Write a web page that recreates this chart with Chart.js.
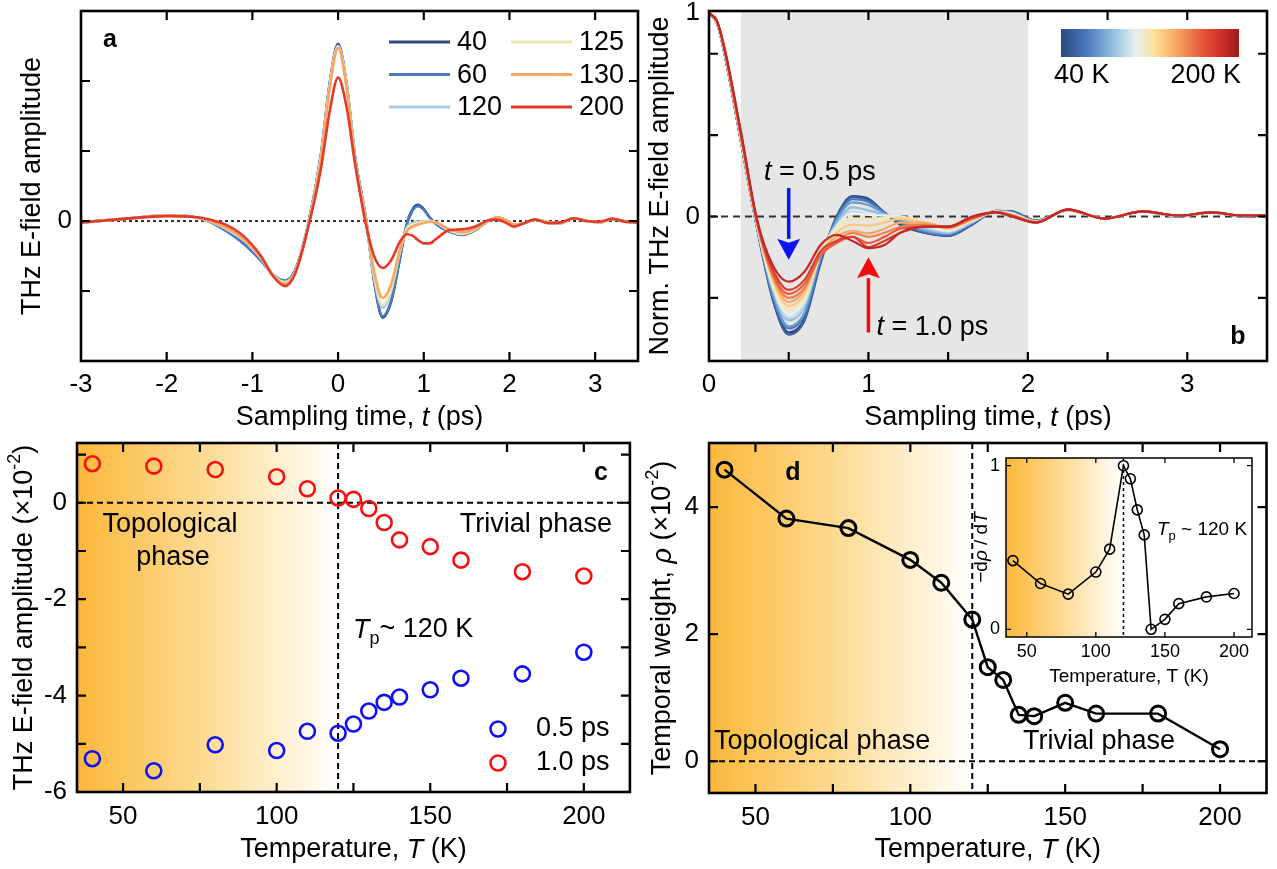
<!DOCTYPE html>
<html>
<head>
<meta charset="utf-8">
<script src="https://cdn.jsdelivr.net/npm/chart.js@4.4.1/dist/chart.umd.min.js"></script>
<style>
body { margin: 0; background: #fff; width: 1277px; height: 869px; position: relative; overflow: hidden; }
canvas { position: absolute; }
</style>
</head>
<body>
<canvas id="pa" width="640" height="430" style="left:0;top:0"></canvas>
<canvas id="pb" width="637" height="430" style="left:640px;top:0"></canvas>
<canvas id="pc" width="640" height="439" style="left:0;top:430px"></canvas>
<canvas id="pd" width="637" height="439" style="left:640px;top:430px"></canvas>
<canvas id="pi" width="300" height="240" style="left:960px;top:450px"></canvas>
<script>
// ---- panel a: raw THz waveforms ----
var tA = [-3, -2.5, -2, -1.7, -1.5, -1.3, -1.1, -0.9, -0.75, -0.62, -0.5, -0.35, -0.2, -0.1, 0, 0.1, 0.2, 0.33, 0.42, 0.52, 0.62, 0.72, 0.8, 0.87, 0.93, 1.0, 1.07, 1.15, 1.3, 1.45, 1.6, 1.75, 1.85, 1.95, 2.05, 2.15, 2.3, 2.45, 2.6, 2.75, 2.9, 3.05, 3.2, 3.35, 3.5];
var a40 = [-0.02, 0.03, 0.08, 0.06, 0.0, -0.13, -0.3, -0.55, -0.78, -0.86, -0.7, -0.05, 0.95, 1.95, 2.53, 1.95, 0.9, 0.0, -0.85, -1.38, -1.15, -0.55, -0.05, 0.17, 0.23, 0.17, 0.05, -0.05, -0.15, -0.2, -0.13, 0.0, 0.05, 0.02, -0.05, -0.04, 0.02, -0.02, -0.03, 0.04, 0.0, -0.02, 0.03, -0.01, -0.02];
var a60 = [-0.02, 0.03, 0.08, 0.06, -0.01, -0.15, -0.33, -0.57, -0.78, -0.85, -0.7, -0.06, 0.93, 1.93, 2.51, 1.94, 0.9, -0.01, -0.85, -1.36, -1.13, -0.54, -0.06, 0.15, 0.21, 0.16, 0.05, -0.05, -0.15, -0.19, -0.13, 0.0, 0.05, 0.02, -0.05, -0.04, 0.02, -0.02, -0.03, 0.04, 0.0, -0.02, 0.03, -0.01, -0.02];
var a120 = [-0.02, 0.03, 0.08, 0.06, 0.0, -0.12, -0.28, -0.53, -0.78, -0.87, -0.72, -0.07, 0.92, 1.92, 2.5, 1.93, 0.88, -0.02, -0.8, -1.24, -1.0, -0.45, -0.1, -0.03, -0.01, 0.0, 0.0, -0.03, -0.14, -0.19, -0.12, 0.0, 0.05, 0.02, -0.05, -0.04, 0.02, -0.02, -0.03, 0.04, 0.0, -0.02, 0.03, -0.01, -0.02];
var a125 = [-0.02, 0.03, 0.08, 0.06, 0.0, -0.11, -0.27, -0.53, -0.79, -0.88, -0.72, -0.08, 0.9, 1.9, 2.49, 1.92, 0.87, -0.03, -0.78, -1.2, -0.97, -0.44, -0.12, -0.05, -0.03, -0.01, 0.0, -0.02, -0.13, -0.18, -0.12, 0.0, 0.05, 0.02, -0.05, -0.04, 0.02, -0.02, -0.03, 0.04, 0.0, -0.02, 0.03, -0.01, -0.02];
var a130 = [-0.02, 0.03, 0.08, 0.06, 0.0, -0.1, -0.26, -0.52, -0.8, -0.9, -0.73, -0.08, 0.88, 1.88, 2.47, 1.9, 0.85, -0.04, -0.72, -1.1, -0.9, -0.42, -0.15, -0.08, -0.05, -0.03, -0.01, -0.02, -0.12, -0.16, -0.11, 0.0, 0.05, 0.02, -0.05, -0.04, 0.02, -0.02, -0.03, 0.04, 0.0, -0.02, 0.03, -0.01, -0.02];
var a200 = [-0.02, 0.03, 0.07, 0.06, 0.02, -0.06, -0.22, -0.5, -0.8, -0.93, -0.75, -0.1, 0.75, 1.55, 2.05, 1.62, 0.8, -0.08, -0.5, -0.67, -0.56, -0.3, -0.19, -0.21, -0.27, -0.32, -0.32, -0.25, -0.13, -0.12, -0.08, 0.01, 0.02, -0.02, -0.08, -0.04, 0.02, -0.03, -0.02, 0.04, 0.0, -0.01, 0.03, -0.01, -0.02];
var labelsA = ['40', '60', '120', '125', '130', '200'];
var colorsA = ['#2b4a80', '#4a7bc0', '#a9cde6', '#eee5b4', '#f8a660', '#e23b2b'];

// ---- panel b: normalised waveforms ----
var tB = [0, 0.05, 0.1, 0.2, 0.3, 0.4, 0.5, 0.6, 0.7, 0.8, 0.9, 1.0, 1.1, 1.2, 1.35, 1.5, 1.65, 1.8, 1.9, 2.05, 2.25, 2.48, 2.72, 2.95, 3.15, 3.35, 3.5];
var b40  = [1, 0.95, 0.79, 0.37, -0.05, -0.40, -0.57, -0.50, -0.22, 0.00, 0.10, 0.087, 0.02, -0.04, -0.08, -0.095, -0.04, 0.028, 0.025, -0.02, 0.03, -0.01, 0.025, 0.0, 0.02, 0.0, 0.005];
var b60  = [1, 0.95, 0.79, 0.37, -0.05, -0.41, -0.58, -0.51, -0.23, -0.005, 0.095, 0.08, 0.02, -0.035, -0.08, -0.095, -0.04, 0.028, 0.025, -0.02, 0.03, -0.01, 0.025, 0.0, 0.02, 0.0, 0.005];
var b80  = [1, 0.95, 0.79, 0.37, -0.05, -0.39, -0.55, -0.48, -0.21, -0.01, 0.085, 0.072, 0.02, -0.03, -0.075, -0.09, -0.035, 0.027, 0.022, -0.022, 0.03, -0.01, 0.025, 0.0, 0.02, 0.0, 0.005];
var b100 = [1, 0.95, 0.795, 0.375, -0.04, -0.38, -0.54, -0.47, -0.20, -0.02, 0.07, 0.057, 0.015, -0.02, -0.07, -0.085, -0.03, 0.026, 0.02, -0.022, 0.03, -0.01, 0.025, 0.0, 0.02, 0.0, 0.005];
var b110 = [1, 0.95, 0.795, 0.38, -0.04, -0.36, -0.51, -0.44, -0.19, -0.035, 0.045, 0.03, 0.01, -0.01, -0.06, -0.08, -0.03, 0.025, 0.018, -0.024, 0.03, -0.01, 0.025, 0.002, 0.02, 0.002, 0.005];
var b120 = [1, 0.955, 0.80, 0.38, -0.04, -0.35, -0.50, -0.43, -0.18, -0.045, 0.025, 0.01, 0.005, 0.0, -0.05, -0.075, -0.025, 0.024, 0.016, -0.025, 0.03, -0.01, 0.025, 0.002, 0.02, 0.002, 0.005];
var b125 = [1, 0.955, 0.80, 0.385, -0.04, -0.34, -0.48, -0.41, -0.18, -0.05, 0.015, 0.008, 0.005, 0.0, -0.04, -0.07, -0.02, 0.024, 0.014, -0.025, 0.03, -0.01, 0.025, 0.003, 0.02, 0.003, 0.005];
var b130 = [1, 0.955, 0.80, 0.385, -0.03, -0.33, -0.46, -0.40, -0.18, -0.06, -0.01, -0.013, -0.005, 0.0, -0.03, -0.06, -0.02, 0.023, 0.012, -0.026, 0.032, -0.01, 0.025, 0.003, 0.02, 0.003, 0.005];
var b135 = [1, 0.955, 0.805, 0.39, -0.03, -0.31, -0.44, -0.38, -0.18, -0.08, -0.04, -0.045, -0.03, -0.01, -0.03, -0.06, -0.015, 0.023, 0.01, -0.027, 0.032, -0.01, 0.025, 0.004, 0.02, 0.004, 0.005];
var b140 = [1, 0.96, 0.805, 0.39, -0.03, -0.30, -0.42, -0.36, -0.18, -0.10, -0.07, -0.083, -0.06, -0.03, -0.03, -0.055, -0.015, 0.022, 0.008, -0.028, 0.033, -0.01, 0.025, 0.004, 0.02, 0.004, 0.005];
var b150 = [1, 0.96, 0.81, 0.40, -0.02, -0.29, -0.40, -0.35, -0.19, -0.12, -0.08, -0.10, -0.08, -0.05, -0.04, -0.055, -0.01, 0.022, 0.006, -0.028, 0.033, -0.01, 0.025, 0.005, 0.02, 0.005, 0.005];
var b160 = [1, 0.96, 0.81, 0.40, -0.02, -0.28, -0.38, -0.33, -0.19, -0.13, -0.10, -0.13, -0.10, -0.06, -0.05, -0.05, -0.01, 0.021, 0.004, -0.029, 0.034, -0.01, 0.025, 0.005, 0.02, 0.005, 0.005];
var b180 = [1, 0.96, 0.815, 0.41, -0.02, -0.26, -0.36, -0.31, -0.17, -0.12, -0.10, -0.15, -0.12, -0.08, -0.05, -0.05, -0.005, 0.02, 0.002, -0.03, 0.035, -0.01, 0.025, 0.005, 0.02, 0.005, 0.005];
var b200 = [1, 0.96, 0.82, 0.42, -0.01, -0.24, -0.32, -0.27, -0.14, -0.09, -0.12, -0.155, -0.14, -0.08, -0.05, -0.05, 0.0, 0.02, 0.0, -0.03, 0.035, -0.01, 0.025, 0.005, 0.02, 0.005, 0.005];
var seriesB = [b40, b60, b80, b100, b110, b120, b125, b130, b135, b140, b150, b160, b180, b200];

// ---- panels c, d: temperature dependence ----
var temps = [40, 60, 80, 100, 110, 120, 125, 130, 135, 140, 150, 160, 180, 200];
var amp05 = [-5.31, -5.56, -5.02, -5.14, -4.74, -4.78, -4.59, -4.32, -4.14, -4.03, -3.88, -3.64, -3.55, -3.10];
var amp10 = [0.81, 0.76, 0.69, 0.54, 0.29, 0.10, 0.07, -0.12, -0.41, -0.77, -0.91, -1.19, -1.43, -1.52];
var rho = [4.59, 3.82, 3.67, 3.17, 2.81, 2.23, 1.48, 1.28, 0.73, 0.71, 0.92, 0.75, 0.75, 0.19];
var dRho = [0.42, 0.28, 0.215, 0.35, 0.49, 1.0, 0.92, 0.73, 0.577, 0.0, 0.061, 0.157, 0.198, 0.219];
var Tp = 120;

// tick positions
var xTicksA = [-3, -2, -1, 0, 1, 2, 3];
var yTicksA = [-1, 0, 1, 2];
var xTicksB = [0, 0.5, 1, 1.5, 2, 2.5, 3];
var yTicksB = [-0.4, 0, 0.4, 0.8, 1];
var xTicksT = [50, 75, 100, 125, 150, 175, 200];
var yTicksC = [-6, -5, -4, -3, -2, -1, 0, 1];
var yTicksD = [0, 2, 4];
var xTicksI = [50, 100, 150, 200];
var yTicksI = [0, 1];

var FAM = 'Arial, "Liberation Sans", Helvetica, sans-serif';
Chart.defaults.font.family = FAM;
Chart.defaults.color = '#000';
Chart.defaults.animation = false;

var cmapStops = [[0, '#2b4880'], [0.14, '#4877bb'], [0.3, '#98c2df'], [0.42, '#e6f2f3'], [0.52, '#fbe39c'], [0.65, '#f8a560'], [0.8, '#e5533a'], [0.92, '#c92a27'], [1, '#9a1c1c']];

function mix(c1, c2, u) {
    var p = parseInt(c1.slice(1), 16), q = parseInt(c2.slice(1), 16);
    var r = Math.round(((p >> 16) & 255) * (1 - u) + ((q >> 16) & 255) * u);
    var g = Math.round(((p >> 8) & 255) * (1 - u) + ((q >> 8) & 255) * u);
    var b = Math.round((p & 255) * (1 - u) + (q & 255) * u);
    return 'rgb(' + r + ',' + g + ',' + b + ')';
}

function cmap(f) {
    for (var i = 1; i < cmapStops.length; i++) {
        if (f <= cmapStops[i][0]) {
            var s0 = cmapStops[i - 1], s1 = cmapStops[i];
            return mix(s0[1], s1[1], (f - s0[0]) / (s1[0] - s0[0]));
        }
    }
    return cmapStops[cmapStops.length - 1][1];
}

function pts(xs, ys) {
    return xs.map(function (x, i) { return { x: x, y: ys[i] }; });
}

function runFont(style, size) {
    if (style === 'i') return 'italic ' + size + 'px ' + FAM;
    if (style === 'b') return 'bold ' + size + 'px ' + FAM;
    if (style === 'sub' || style === 'sup') return Math.round(size * 0.68) + 'px ' + FAM;
    return size + 'px ' + FAM;
}

// text made of runs [text, style] so that italics, sub- and superscripts can be mixed
function rich(ctx, runs, x, y, size, align, rot) {
    ctx.save();
    ctx.translate(x, y);
    if (rot) ctx.rotate(rot);
    ctx.textBaseline = 'middle';
    ctx.textAlign = 'left';
    var w = 0;
    runs.forEach(function (r) { ctx.font = runFont(r[1], size); w += ctx.measureText(r[0]).width; });
    var cx = align === 'left' ? 0 : (align === 'right' ? -w : -w / 2);
    runs.forEach(function (r) {
        ctx.font = runFont(r[1], size);
        var dy = r[1] === 'sub' ? size * 0.32 : (r[1] === 'sup' ? -size * 0.38 : 0);
        ctx.fillText(r[0], cx, dy);
        cx += ctx.measureText(r[0]).width;
    });
    ctx.restore();
}

function axisTitles(chart, xRuns, xY, yRuns, yX, size) {
    var ctx = chart.ctx, a = chart.chartArea;
    ctx.save();
    ctx.fillStyle = '#000';
    rich(ctx, xRuns, (a.left + a.right) / 2, xY, size, 'center', 0);
    rich(ctx, yRuns, yX, (a.top + a.bottom) / 2, size, 'center', -Math.PI / 2);
    ctx.restore();
}

function axis(min, max, ticks, labelFn, size, pad, box) {
    return {
        type: 'linear', min: min, max: max,
        grid: { display: false, drawTicks: false },
        border: { display: false },
        afterBuildTicks: function (s) { s.ticks = ticks.map(function (v) { return { value: v }; }); },
        afterFit: function (s) {
            if (s.isHorizontal()) s.height = box; else s.width = box;
            s.paddingTop = 0; s.paddingBottom = 0; s.paddingLeft = 0; s.paddingRight = 0;
        },
        ticks: { font: { size: size }, padding: pad, color: '#000', autoSkip: false, maxRotation: 0, callback: labelFn }
    };
}

function dashed(ctx, x1, y1, x2, y2, dash, lw, color) {
    ctx.save();
    ctx.setLineDash(dash);
    ctx.lineWidth = lw;
    ctx.strokeStyle = color;
    ctx.beginPath(); ctx.moveTo(x1, y1); ctx.lineTo(x2, y2); ctx.stroke();
    ctx.restore();
}

function phaseShade(chart) {
    var ctx = chart.ctx, a = chart.chartArea;
    var xp = chart.scales.x.getPixelForValue(Tp);
    var g = ctx.createLinearGradient(a.left, 0, xp, 0);
    g.addColorStop(0, 'rgb(251,184,58)');
    g.addColorStop(0.5, 'rgb(253,220,150)');
    g.addColorStop(1, 'rgb(255,255,255)');
    ctx.save();
    ctx.fillStyle = g;
    ctx.fillRect(a.left, a.top, xp - a.left, a.bottom - a.top);
    ctx.restore();
}

function arrow(ctx, x, y1, y2, color) {
    var dir = y2 > y1 ? 1 : -1, hl = 21, hw = 11.5;
    ctx.save();
    ctx.strokeStyle = color; ctx.fillStyle = color; ctx.lineWidth = 3.5;
    ctx.beginPath(); ctx.moveTo(x, y1); ctx.lineTo(x, y2 - dir * hl); ctx.stroke();
    ctx.beginPath();
    ctx.moveTo(x - hw, y2 - dir * hl); ctx.lineTo(x, y2 - dir * (hl - 4)); ctx.lineTo(x + hw, y2 - dir * hl);
    ctx.lineTo(x, y2); ctx.closePath(); ctx.fill();
    ctx.restore();
}

// box round the plot area with inward ticks on all four sides
var framePlugin = {
    id: 'frame',
    afterDraw: function (chart, args, o) {
        var ctx = chart.ctx, a = chart.chartArea, sx = chart.scales.x, sy = chart.scales.y;
        ctx.save();
        ctx.strokeStyle = '#000';
        ctx.lineWidth = o.tickWidth;
        ctx.beginPath();
        sx.ticks.forEach(function (t) {
            var px = sx.getPixelForValue(t.value);
            if (px < a.left + 3 || px > a.right - 3) return;
            ctx.moveTo(px, a.bottom); ctx.lineTo(px, a.bottom - o.len);
            ctx.moveTo(px, a.top); ctx.lineTo(px, a.top + o.len);
        });
        sy.ticks.forEach(function (t) {
            var py = sy.getPixelForValue(t.value);
            if (py < a.top + 3 || py > a.bottom - 3) return;
            ctx.moveTo(a.left, py); ctx.lineTo(a.left + o.len, py);
            ctx.moveTo(a.right, py); ctx.lineTo(a.right - o.len, py);
        });
        ctx.stroke();
        ctx.lineWidth = o.width;
        ctx.strokeRect(a.left, a.top, a.right - a.left, a.bottom - a.top);
        ctx.restore();
    }
};

var TS = 26;   // tick label size
var LS = 27;   // axis title size
var NS = 27;   // annotation size
var baseOpts = function (extra) {
    var o = {
        responsive: false,
        plugins: { legend: { display: false }, tooltip: { enabled: false }, frame: { width: 2.6, tickWidth: 2.2, len: 9 } },
        elements: { point: { radius: 0 } }
    };
    for (var k in extra) o[k] = extra[k];
    return o;
};

// ---------------- panel a ----------------
var panelA = {
    id: 'panelA',
    beforeDatasetsDraw: function (chart) {
        var a = chart.chartArea, y0 = chart.scales.y.getPixelForValue(0);
        dashed(chart.ctx, a.left, y0, a.right, y0, [3, 3], 1.6, '#000');
    },
    afterDraw: function (chart) {
        var ctx = chart.ctx, a = chart.chartArea;
        ctx.save();
        chart.data.datasets.forEach(function (ds, i) {
            var col = Math.floor(i / 3), row = i % 3;
            var x0 = a.left + 308 + col * 122, y = a.top + 31 + row * 32.5;
            ctx.strokeStyle = ds.borderColor; ctx.lineWidth = 3;
            ctx.beginPath(); ctx.moveTo(x0, y); ctx.lineTo(x0 + 61, y); ctx.stroke();
            ctx.fillStyle = '#000';
            rich(ctx, [[ds.label, '']], x0 + 68, y + 1, NS, 'left', 0);
        });
        rich(ctx, [['a', 'b']], a.left + 29, a.top + 29, 25, 'center', 0);
        ctx.restore();
        axisTitles(chart, [['Sampling time, ', ''], ['t', 'i'], [' (ps)', '']], 418,
            [['THz E-field amplitude', '']], 33, LS);
    }
};

new Chart(document.getElementById('pa'), {
    type: 'line',
    data: {
        datasets: [a40, a60, a120, a125, a130, a200].map(function (s, i) {
            return { label: labelsA[i], data: pts(tA, s), borderColor: colorsA[i], borderWidth: 2.6,
                cubicInterpolationMode: 'monotone', order: 10 - i };
        })
    },
    options: baseOpts({
        layout: { padding: { top: 11, right: 2, left: 0, bottom: 0 } },
        scales: {
            x: axis(-3, 3.5, xTicksA, function (v) { return String(v); }, TS, 8, 69),
            y: axis(-2, 3, yTicksA, function (v) { return v === 0 ? '0' : ''; }, TS, 9, 81)
        }
    }),
    plugins: [panelA, framePlugin]
});

// ---------------- panel b ----------------
var panelB = {
    id: 'panelB',
    beforeDatasetsDraw: function (chart) {
        var ctx = chart.ctx, a = chart.chartArea, sx = chart.scales.x, sy = chart.scales.y;
        var x1 = sx.getPixelForValue(0.2), x2 = sx.getPixelForValue(2.0);
        ctx.save();
        ctx.fillStyle = '#e6e6e6';
        ctx.fillRect(x1, a.top, x2 - x1, a.bottom - a.top);
        ctx.restore();
        var y0 = sy.getPixelForValue(0);
        dashed(ctx, a.left, y0, a.right, y0, [7, 5], 2, '#333');
    },
    afterDatasetsDraw: function (chart) {
        var ctx = chart.ctx, a = chart.chartArea, sx = chart.scales.x, sy = chart.scales.y;
        arrow(ctx, sx.getPixelForValue(0.5), sy.getPixelForValue(0.14), sy.getPixelForValue(-0.213), '#0a14f5');
        arrow(ctx, sx.getPixelForValue(1.0), sy.getPixelForValue(-0.57), sy.getPixelForValue(-0.2), '#f50a0a');
        ctx.save();
        ctx.fillStyle = '#000';
        rich(ctx, [['t', 'i'], [' = 0.5 ps', '']], sx.getPixelForValue(0.345), sy.getPixelForValue(0.215), NS, 'left', 0);
        rich(ctx, [['t', 'i'], [' = 1.0 ps', '']], sx.getPixelForValue(1.05), sy.getPixelForValue(-0.545), NS, 'left', 0);
        rich(ctx, [['b', 'b']], a.right - 29, a.bottom - 24, 25, 'center', 0);
        // colour bar for the temperature scale
        var bx0 = a.right - 206, bx1 = a.right - 28, by0 = a.top + 18, by1 = a.top + 46;
        var g = ctx.createLinearGradient(bx0, 0, bx1, 0);
        cmapStops.forEach(function (s) { g.addColorStop(s[0], s[1]); });
        ctx.fillStyle = g;
        ctx.fillRect(bx0, by0, bx1 - bx0, by1 - by0);
        ctx.fillStyle = '#000';
        rich(ctx, [['40 K', '']], bx0 - 7, by1 + 19, NS, 'left', 0);
        rich(ctx, [['200 K', '']], bx1 + 2, by1 + 19, NS, 'right', 0);
        ctx.restore();
    },
    afterDraw: function (chart) {
        axisTitles(chart, [['Sampling time, ', ''], ['t', 'i'], [' (ps)', '']], 418,
            [['Norm. THz E-field amplitude', '']], 21, LS);
    }
};

new Chart(document.getElementById('pb'), {
    type: 'line',
    data: {
        datasets: seriesB.map(function (s, i) {
            return { label: temps[i] + ' K', data: pts(tB, s), borderColor: cmap(i / 13 * 0.93), borderWidth: 2.2,
                cubicInterpolationMode: 'monotone', order: 20 - i };
        })
    },
    options: baseOpts({
        layout: { padding: { top: 11, right: 10, left: 0, bottom: 0 } },
        scales: {
            x: axis(0, 3.5, xTicksB, function (v) { return Number.isInteger(v) ? String(v) : ''; }, TS, 8, 69),
            y: axis(-0.71, 1.01, yTicksB, function (v) { return (v === 0 || v === 1) ? String(v) : ''; }, TS, 9, 69)
        }
    }),
    plugins: [panelB, framePlugin]
});

// ---------------- panel c ----------------
var panelC = {
    id: 'panelC',
    beforeDatasetsDraw: function (chart) {
        var ctx = chart.ctx, a = chart.chartArea, sx = chart.scales.x, sy = chart.scales.y;
        phaseShade(chart);
        var xp = sx.getPixelForValue(Tp), y0 = sy.getPixelForValue(0);
        dashed(ctx, a.left, y0, a.right, y0, [6, 4], 2, '#000');
        dashed(ctx, xp, a.top, xp, a.bottom, [6, 4], 2, '#000');
    },
    afterDatasetsDraw: function (chart) {
        var ctx = chart.ctx, a = chart.chartArea;
        ctx.save();
        ctx.fillStyle = '#000';
        rich(ctx, [['Topological', '']], a.left + 93, a.top + 82, NS, 'center', 0);
        rich(ctx, [['phase', '']], a.left + 96, a.top + 115, NS, 'center', 0);
        rich(ctx, [['Trivial phase', '']], a.right - 18, a.top + 82, NS, 'right', 0);
        rich(ctx, [['T', 'i'], ['p', 'sub'], ['~ 120 K', '']], a.left + 276, a.top + 187, NS, 'left', 0);
        rich(ctx, [['c', 'b']], a.right - 29, a.top + 30, 25, 'center', 0);
        chart.data.datasets.forEach(function (ds, i) {
            var y = a.top + 286 + i * 34;
            ctx.strokeStyle = ds.borderColor; ctx.lineWidth = ds.borderWidth;
            ctx.beginPath(); ctx.arc(a.left + 421, y, ds.pointRadius, 0, Math.PI * 2); ctx.stroke();
            ctx.fillStyle = '#000';
            rich(ctx, [[ds.label, '']], a.left + 459, y, NS, 'left', 0);
        });
        ctx.restore();
    },
    afterDraw: function (chart) {
        axisTitles(chart, [['Temperature, ', ''], ['T', 'i'], [' (K)', '']], 420,
            [['THz E-field amplitude (\u00d710', ''], ['-2', 'sup'], [')', '']], 25, LS);
    }
};

new Chart(document.getElementById('pc'), {
    type: 'scatter',
    data: {
        datasets: [
            { label: '0.5 ps', data: pts(temps, amp05), borderColor: '#1010f5', backgroundColor: 'transparent', pointRadius: 7.5, borderWidth: 2.6 },
            { label: '1.0 ps', data: pts(temps, amp10), borderColor: '#f51010', backgroundColor: 'transparent', pointRadius: 7.5, borderWidth: 2.6 }
        ]
    },
    options: baseOpts({
        layout: { padding: { top: 13, right: 4, left: 0, bottom: 0 } },
        scales: {
            x: axis(35, 215, xTicksT, function (v) { return v % 50 === 0 ? String(v) : ''; }, TS, 9, 77),
            y: axis(-6, 1.24, yTicksC, function (v) { return v % 2 === 0 ? String(v) : ''; }, TS, 10, 77)
        }
    }),
    plugins: [panelC, framePlugin]
});

// ---------------- panel d ----------------
var panelD = {
    id: 'panelD',
    beforeDatasetsDraw: function (chart) {
        var ctx = chart.ctx, a = chart.chartArea, sx = chart.scales.x, sy = chart.scales.y;
        phaseShade(chart);
        var xp = sx.getPixelForValue(Tp), y0 = sy.getPixelForValue(0);
        dashed(ctx, a.left, y0, a.right, y0, [6, 4], 2, '#000');
        dashed(ctx, xp, a.top, xp, a.bottom, [6, 4], 2, '#000');
    },
    afterDatasetsDraw: function (chart) {
        var ctx = chart.ctx, a = chart.chartArea;
        ctx.save();
        ctx.fillStyle = '#000';
        rich(ctx, [['d', 'b']], a.left + 84, a.top + 30, 25, 'center', 0);
        rich(ctx, [['Topological phase', '']], a.left + 5, a.top + 299, NS, 'left', 0);
        rich(ctx, [['Trivial phase', '']], a.left + 314, a.top + 299, NS, 'left', 0);
        ctx.restore();
    },
    afterDraw: function (chart) {
        axisTitles(chart, [['Temperature, ', ''], ['T', 'i'], [' (K)', '']], 420,
            [['Temporal weight, ', ''], ['\u03c1', 'i'], [' (\u00d710', ''], ['-2', 'sup'], [')', '']], 23, LS);
    }
};

new Chart(document.getElementById('pd'), {
    type: 'line',
    data: {
        datasets: [{ label: 'rho', data: pts(temps, rho), borderColor: '#000', borderWidth: 2.4,
            pointRadius: 7.5, pointBorderWidth: 3, pointBackgroundColor: 'transparent', pointBorderColor: '#000' }]
    },
    options: baseOpts({
        layout: { padding: { top: 13, right: 10, left: 0, bottom: 0 } },
        scales: {
            x: axis(35, 215, xTicksT, function (v) { return v % 50 === 0 ? String(v) : ''; }, TS, 9, 76),
            y: axis(-0.5, 5.01, yTicksD, function (v) { return String(v); }, TS, 10, 69)
        }
    }),
    plugins: [panelD, framePlugin]
});

// ---------------- inset of panel d ----------------
var panelI = {
    id: 'panelI',
    beforeDatasetsDraw: function (chart) {
        var ctx = chart.ctx, a = chart.chartArea, sx = chart.scales.x;
        ctx.save();
        ctx.fillStyle = '#fff';
        ctx.fillRect(a.left, a.top, a.right - a.left, a.bottom - a.top);
        ctx.restore();
        phaseShade(chart);
        var xp = sx.getPixelForValue(Tp);
        dashed(ctx, xp, a.top, xp, a.bottom, [3, 3], 1.5, '#000');
    },
    afterDatasetsDraw: function (chart) {
        var ctx = chart.ctx, a = chart.chartArea;
        ctx.save();
        ctx.fillStyle = '#000';
        rich(ctx, [['T', 'i'], ['p', 'sub'], [' ~ 120 K', '']], a.left + 151, a.top + 72, 19, 'left', 0);
        ctx.restore();
    },
    afterDraw: function (chart) {
        axisTitles(chart, [['Temperature, T (K)', '']], 227,
            [['\u2212d', ''], ['\u03c1', 'i'], [' / d', ''], ['T', 'i']], 22, 19);
    }
};

new Chart(document.getElementById('pi'), {
    type: 'line',
    data: {
        datasets: [{ label: 'drho', data: pts(temps, dRho), borderColor: '#000', borderWidth: 1.6,
            pointRadius: 5, pointBorderWidth: 1.6, pointBackgroundColor: 'transparent', pointBorderColor: '#000' }]
    },
    options: baseOpts({
        layout: { padding: { top: 8, right: 8, left: 0, bottom: 0 } },
        plugins: { legend: { display: false }, tooltip: { enabled: false }, frame: { width: 1.5, tickWidth: 1.3, len: 5 } },
        scales: {
            x: axis(35, 213, xTicksI, function (v) { return String(v); }, 18, 4, 53),
            y: axis(-0.047, 1.047, yTicksI, function (v) { return String(v); }, 18, 6, 46)
        }
    }),
    plugins: [panelI, framePlugin]
});
</script>
</body>
</html>
